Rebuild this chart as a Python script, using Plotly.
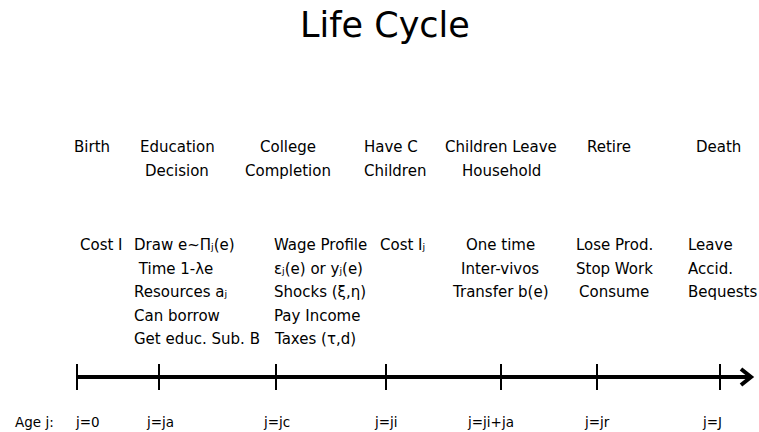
import plotly.graph_objects as go

# ---- data ----
title = "Life Cycle"
age_labels = ["j=0", "j=ja", "j=jc", "j=ji", "j=ji+ja", "j=jr", "j=J"]
stage_pos = [77, 159, 276, 386, 501, 597, 720]          # position of each stage on the timeline
event_line1 = ["Birth", "Education", "College", "Have C", "Children Leave", "Retire", "Death"]
event_line2 = ["", "Decision", "Completion", "Children", "Household", "", ""]
detail_cols = [
    ["Cost I"],
    ["Draw e~Π\u2c7c(e)", " Time 1-λe", "Resources a\u2c7c", "Can borrow", "Get educ. Sub. B"],
    ["Wage Profile", "ε\u2c7c(e) or y\u2c7c(e)", "Shocks (ξ,η)", "Pay Income", "Taxes (τ,d)"],
    ["Cost I\u2c7c"],
    ["One time", "Inter-vivos", "Transfer b(e)"],
    ["Lose Prod.", "Stop Work", "Consume"],
    ["Leave", "Accid.", "Bequests"],
]

# ---- layout config ----
W, H = 759, 432
FONT = "'DejaVu Sans', sans-serif"
fs = 15
event_x = [92, 177, 288, 362, 501, 609, 718]
event_anchor = ["center", "center", "center", "left", "center", "center", "center"]
detail_x = [78, 132, 272, 378, 500, 614, 686]
detail_anchor = ["left", "left", "left", "left", "center", "center", "left"]
row_y1, row_y2 = 147, 171
detail_y0, detail_dy = 245, 23.5
line_y = 377
tick_half = 13
label_y = 422

fig = go.Figure()

# timeline axis line
fig.add_trace(go.Scatter(x=[stage_pos[0], 748], y=[line_y, line_y], mode="lines",
                         line=dict(color="black", width=4), hoverinfo="skip"))
# ticks
for p in stage_pos:
    fig.add_trace(go.Scatter(x=[p, p], y=[line_y - tick_half, line_y + tick_half], mode="lines",
                             line=dict(color="black", width=2), hoverinfo="skip"))
# arrow head (open chevron)
fig.add_trace(go.Scatter(x=[741, 751, 741], y=[line_y - 8, line_y, line_y + 8], mode="lines",
                         line=dict(color="black", width=4), hoverinfo="skip"))

ann = []
ann.append(dict(x=385, y=25, text=title, font=dict(size=35, family=FONT, color="#000")))
for i, (l1, l2) in enumerate(zip(event_line1, event_line2)):
    ann.append(dict(x=event_x[i], y=row_y1, text=l1, xanchor=event_anchor[i],
                    font=dict(size=fs, family=FONT, color="#000")))
    if l2:
        ann.append(dict(x=event_x[i], y=row_y2, text=l2, xanchor=event_anchor[i],
                        font=dict(size=fs, family=FONT, color="#000")))
for i, col in enumerate(detail_cols):
    for k, line in enumerate(col):
        ann.append(dict(x=detail_x[i], y=detail_y0 + k * detail_dy, text=line, xanchor=detail_anchor[i],
                        font=dict(size=fs, family=FONT, color="#000")))
ann.append(dict(x=34, y=label_y, text="Age j:", font=dict(size=13.5, family=FONT, color="#000")))
lab_x = [87, 160, 276, 386, 490, 597, 712]
for i, t in enumerate(age_labels):
    ann.append(dict(x=lab_x[i], y=label_y, text=t, font=dict(size=13.5, family=FONT, color="#000")))
for a in ann:
    a.update(xref="x", yref="y", showarrow=False, yanchor="middle")
    a.setdefault("xanchor", "center")
    fig.add_annotation(**a)

fig.update_layout(
    width=W, height=H, margin=dict(l=0, r=0, t=0, b=0),
    paper_bgcolor="white", plot_bgcolor="white", showlegend=False,
    xaxis=dict(range=[0, W], visible=False, fixedrange=True),
    yaxis=dict(range=[H, 0], visible=False, fixedrange=True),
)
fig.write_html("out.html", config={"displayModeBar": False},
               post_script="document.body.style.margin='0';document.body.style.overflow='hidden';")
